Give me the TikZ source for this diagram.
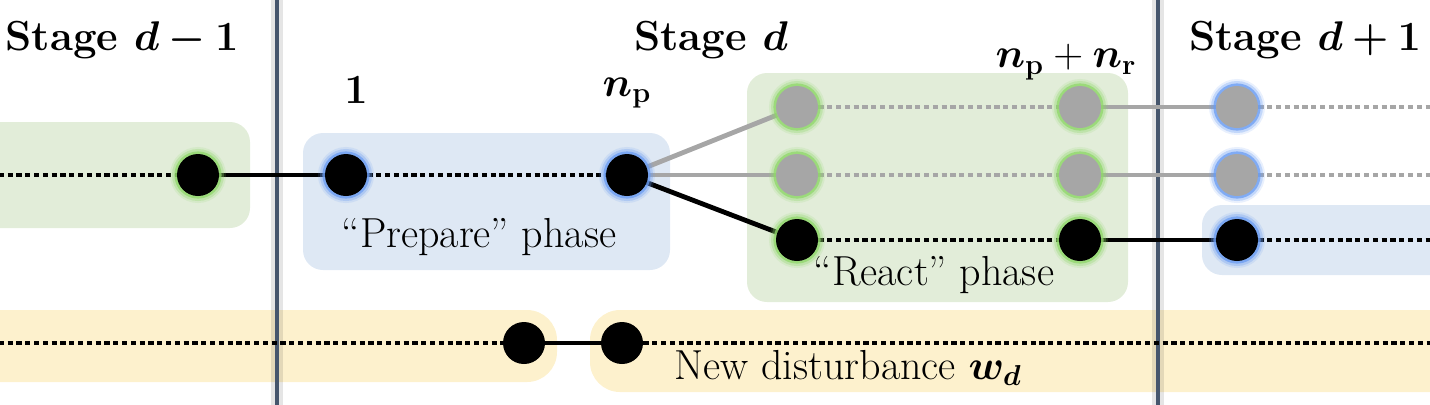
\documentclass[tikz,border=0pt]{standalone}
\usepackage{amsmath,bm}
\usetikzlibrary{backgrounds}
\pgfdeclarelayer{bg}
\pgfdeclarelayer{lines}
\pgfsetlayers{bg,lines,main}
\definecolor{gbox}{HTML}{E2EDD9}
\definecolor{bbox}{HTML}{DEE8F4}
\definecolor{ybox}{HTML}{FDF1CD}
\definecolor{ggl}{HTML}{8FD86A}
\definecolor{bgl}{HTML}{6A9CF2}
\definecolor{gdot}{HTML}{A6A6A6}
\definecolor{vline}{HTML}{46566D}
\tikzset{
  dot/.style={circle, inner sep=0pt, minimum size=21pt, fill=black},
  gdotn/.style={dot, fill=gdot},
  glowg/.style={preaction={draw=ggl, line width=7pt, opacity=0.15},
                preaction={draw=ggl, line width=5pt, opacity=0.3},
                preaction={draw=ggl, line width=2.6pt, opacity=0.75}},
  glowb/.style={preaction={draw=bgl, line width=7pt, opacity=0.15},
                preaction={draw=bgl, line width=5pt, opacity=0.3},
                preaction={draw=bgl, line width=2.6pt, opacity=0.75}},
  solidk/.style={line width=2.4pt, black},
  dotk/.style={line width=2.4pt, black, dash pattern=on 2.6pt off 1.8pt},
  solidg/.style={line width=2.4pt, gdot},
  dotg/.style={line width=2.4pt, gdot, dash pattern=on 2.6pt off 1.8pt},
  boxfill/.style={rounded corners=10pt},
  vsep/.style={line width=2pt, vline},
  vshadow/.style={line width=6pt, black, opacity=0.1},
  stagelbl/.style={font=\fontsize{21}{25}\selectfont\bfseries},
  phaselbl/.style={font=\fontsize{21}{25}\selectfont},
}
\begin{document}
\begin{tikzpicture}[x=0.5pt,y=-0.5pt]
\useasboundingbox (0,0) rectangle (1430,404);

% free-end coordinates
\coordinate (L2) at (-10,175);
\coordinate (L4) at (-10,343);
\coordinate (E1) at (1440,107);
\coordinate (E2) at (1440,175);
\coordinate (E3) at (1440,240);
\coordinate (E4) at (1440,343);
\coordinate (V1t) at (277,-5);
\coordinate (V1b) at (277,410);
\coordinate (V2t) at (1158,-5);
\coordinate (V2b) at (1158,410);

% nodes
\node[dot, glowg] (a0) at (198,175) {};
\node[dot, glowb] (p1) at (346,175) {};
\node[dot, glowb] (pn) at (627,175) {};
\node[gdotn, glowg] (r11) at (797,107) {};
\node[gdotn, glowg] (r21) at (797,175) {};
\node[dot, glowg] (r31) at (797,240) {};
\node[gdotn, glowg] (r1n) at (1080,107) {};
\node[gdotn, glowg] (r2n) at (1080,175) {};
\node[dot, glowg] (r3n) at (1080,240) {};
\node[gdotn, glowb] (s11) at (1237,107) {};
\node[gdotn, glowb] (s21) at (1237,175) {};
\node[dot, glowb] (s31) at (1237,240) {};
\node[dot] (w1) at (524,343) {};
\node[dot] (w2) at (622,343) {};

% labels
\node[stagelbl] (sdm) at (122,40) {Stage $\bm{d-1}$};
\node[stagelbl] (sd) at (711,40) {Stage $\bm{d}$};
\node[stagelbl] (sdp) at (1305,40) {Stage $\bm{d+1}$};
\node[stagelbl] (l1) at (356,90) {$\bm{1}$};
\node[stagelbl] (lnp) at (627,93) {$\bm{n}_{\mathbf{p}}$};
\node[stagelbl] (lnr) at (1066,62) {$\bm{n}_{\mathbf{p}}+\bm{n}_{\mathbf{r}}$};
\node[phaselbl] (prep) at (479,237) {``Prepare'' phase};
\node[phaselbl] (react) at (934,275) {``React'' phase};
\node[phaselbl] (dist) at (848,368) {New disturbance $\bm{w}_{\bm{d}}$};

\begin{pgfonlayer}{bg}
  \fill[gbox, boxfill] (-30,122) rectangle (250,228);
  \fill[bbox, boxfill] (303,133) rectangle (670,270);
  \fill[gbox, boxfill] (747,73) rectangle (1128,302);
  \fill[bbox, boxfill] (1202,205) rectangle (1460,275);
  \fill[ybox, rounded corners=15pt] (-40,310) rectangle (557,382);
  \fill[ybox, rounded corners=15pt] (590,310) rectangle (1470,392);
\end{pgfonlayer}

\begin{pgfonlayer}{lines}
  \draw[vshadow] (V1t) -- (V1b);
  \draw[vshadow] (V2t) -- (V2b);
  \draw[vsep] (V1t) -- (V1b);
  \draw[vsep] (V2t) -- (V2b);
  % row 2
  \draw[dotk] (L2) -- (a0);
  \draw[solidk] (a0) -- (p1);
  \draw[dotk] (p1) -- (pn);
  \draw[solidg] (pn.center) -- (r11);
  \draw[solidg] (pn.center) -- (r21);
  \draw[solidk] (pn.center) -- (r31);
  \draw[dotg] (r11) -- (r1n);
  \draw[dotg] (r21) -- (r2n);
  \draw[dotk] (r31) -- (r3n);
  \draw[solidg] (r1n) -- (s11);
  \draw[solidg] (r2n) -- (s21);
  \draw[solidk] (r3n) -- (s31);
  \draw[dotg] (s11) -- (E1);
  \draw[dotg] (s21) -- (E2);
  \draw[dotk] (s31) -- (E3);
  % disturbance row
  \draw[dotk] (L4) -- (w1);
  \draw[solidk] (w1) -- (w2);
  \draw[dotk] (w2) -- (E4);
\end{pgfonlayer}
\end{tikzpicture}
\end{document}
